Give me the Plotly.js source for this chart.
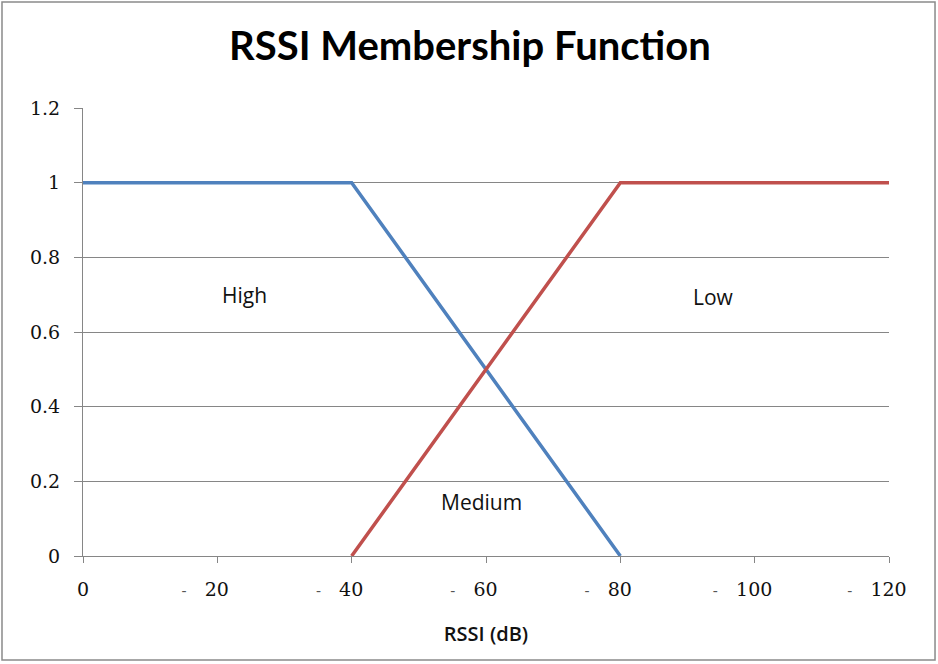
<!DOCTYPE html>
<html>
<head>
<meta charset="utf-8">
<script src="https://cdn.plot.ly/plotly-3.0.1.min.js"></script>
<style>
html,body{margin:0;padding:0;background:#fff;}
#chart{width:938px;height:664px;}
</style>
</head>
<body>
<div id="chart"></div>
<script>
// Data
var highX = [0, 40, 80];
var highY = [1, 1, 0];
var lowX = [40, 80, 120];
var lowY = [0, 1, 1];
var xTickVals = [0, 20, 40, 60, 80, 100, 120];
var xTickNums = ["0", "20", "40", "60", "80", "100", "120"];
var yTickVals = [0, 0.2, 0.4, 0.6, 0.8, 1, 1.2];
var yTickText = ["0", "0.2", "0.4", "0.6", "0.8", "1", "1.2"];
var labelNames = ["High", "Medium", "Low"];

var nb = "\u00a0";
var xTickText = xTickNums.map(function (t, i) {
  if (i === 0) return t;
  return '<span style="font-size:15px;color:#555">-</span>' + nb + nb + nb + t + nb + nb + nb + nb;
});

var traces = [
  {x: highX, y: highY, mode: "lines", name: "High",
   line: {color: "#4F81BD", width: 3.5}, hoverinfo: "skip"},
  {x: lowX, y: lowY, mode: "lines", name: "Low",
   line: {color: "#C0504D", width: 3.5}, hoverinfo: "skip"}
];

var annFont = {family: "'Open Sans', sans-serif", size: 21, color: "#111"};
var tickFont = {family: "'DejaVu Serif', serif", size: 19, color: "#111"};
var layout = {
  width: 938, height: 664,
  margin: {l: 83, r: 49, t: 108, b: 108},
  paper_bgcolor: "#fff", plot_bgcolor: "#fff",
  showlegend: false,
  title: {text: "<b>RSSI Membership Function</b>", x: 0.501, xref: "container", xanchor: "center",
          y: 0.93, yref: "container", yanchor: "middle",
          font: {family: "Lato, 'Open Sans', sans-serif", size: 40, color: "#000"}},
  xaxis: {range: [0, 120], tickvals: xTickVals, ticktext: xTickText,
          showgrid: false, zeroline: false, showline: true, linecolor: "#868686", linewidth: 1,
          ticks: "outside", ticklen: 6, tickcolor: "#868686", ticklabelstandoff: 10,
          tickfont: tickFont,
          title: {text: "RSSI (dB)", standoff: 28,
                  font: {family: "'Open Sans', sans-serif", size: 20, color: "#111", weight: 600}}},
  yaxis: {range: [0, 1.2], tickvals: yTickVals, ticktext: yTickText,
          showgrid: true, gridcolor: "#868686", gridwidth: 1, zeroline: false,
          showline: true, linecolor: "#868686", linewidth: 1,
          ticks: "outside", ticklen: 8, tickcolor: "#868686", ticklabelstandoff: 10,
          tickfont: tickFont},
  annotations: [
    {x: 24.1, y: 0.70, xref: "x", yref: "y", text: labelNames[0], showarrow: false, font: annFont},
    {x: 59.4, y: 0.145, xref: "x", yref: "y", text: labelNames[1], showarrow: false, font: annFont},
    {x: 93.8, y: 0.695, xref: "x", yref: "y", text: labelNames[2], showarrow: false, font: annFont}
  ],
  shapes: [
    {type: "rect", xref: "paper", yref: "paper",
     x0: -0.1005, x1: 1.0571, y0: -0.2321, y1: 1.2366,
     line: {color: "#8a8a8a", width: 1.5}, fillcolor: "rgba(0,0,0,0)", layer: "below"}
  ]
};

Plotly.newPlot("chart", traces, layout, {staticPlot: true, displayModeBar: false});
</script>
</body>
</html>
